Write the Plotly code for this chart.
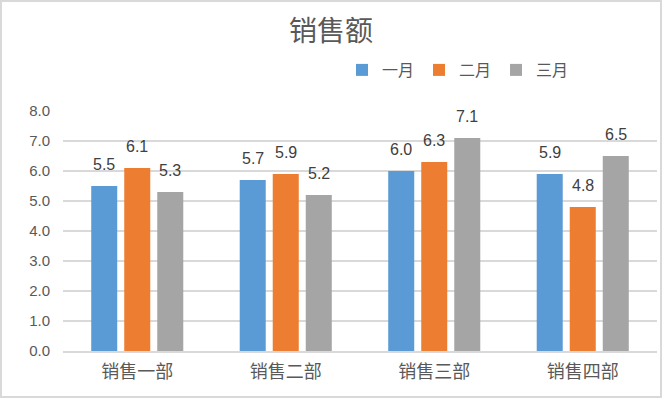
import plotly.graph_objects as go

categories = ["销售一部", "销售二部", "销售三部", "销售四部"]
series_names = ["一月", "二月", "三月"]
jan = [5.5, 5.7, 6.0, 5.9]
feb = [6.1, 5.9, 6.3, 4.8]
mar = [5.3, 5.2, 7.1, 6.5]
colors = ["#5B9BD5", "#ED7D31", "#A5A5A5"]

W, H = 662, 398
ML, MR, MT, MB = 63, 5, 111, 47
PW, PH = W - ML - MR, H - MT - MB

cjk = "Noto Sans CJK SC, Liberation Sans, sans-serif"
num = "Liberation Sans, Noto Sans CJK SC, sans-serif"

fig = go.Figure()
values = [jan, feb, mar]
for name, vals, c in zip(series_names, values, colors):
    fig.add_trace(go.Bar(x=categories, y=vals, name=name, marker_color=c,
                         marker_line_width=0))

slot = 33
for i, vals in enumerate(values):
    for cat, v in zip(categories, vals):
        fig.add_annotation(x=cat, y=v, xref="x", yref="y", text=f"{v:.1f}",
                           showarrow=False, xshift=(i - 1) * slot, yshift=22,
                           yanchor="middle",
                           font=dict(family=num, size=16, color="#404040"))

fig.update_layout(
    width=W, height=H,
    margin=dict(l=ML, r=MR, t=MT, b=MB, pad=0),
    paper_bgcolor="white", plot_bgcolor="white",
    barmode="group", bargap=0.333, bargroupgap=0.212,
    title=dict(text="销售额", x=0.5, xref="container", xanchor="center",
               y=1 - 31 / H, yanchor="middle",
               font=dict(family=cjk, size=28, color="#595959")),
    showlegend=True,
    legend=dict(orientation="h", x=(342 - ML) / PW, xanchor="left",
                y=(H - MB - 70) / PH, yanchor="middle",
                font=dict(family=cjk, size=16, color="#595959"),
                itemwidth=30, traceorder="normal", bgcolor="rgba(0,0,0,0)"),
    xaxis=dict(showgrid=False, showline=True, linecolor="#D9D9D9", linewidth=1.5,
               ticks="", tickfont=dict(family=cjk, size=18, color="#595959"),
               ticklabelstandoff=4),
    yaxis=dict(range=[0, 8], dtick=1, tickformat=".1f", showgrid=True,
               gridcolor="#D9D9D9", gridwidth=1.5, zeroline=False, showline=False,
               ticks="", ticklabelstandoff=12,
               tickfont=dict(family=num, size=15, color="#595959")),
)

fig.add_shape(type="rect", xref="paper", yref="paper",
              x0=(1 - ML) / PW, x1=1 + (MR - 1) / PW,
              y0=-(MB - 1) / PH, y1=1 + (MT - 1) / PH,
              line=dict(color="#D9D9D9", width=2), fillcolor="rgba(0,0,0,0)",
              layer="below")

fig.write_html("out.html", config={"displayModeBar": False},
               post_script="document.body.style.margin='0';")
